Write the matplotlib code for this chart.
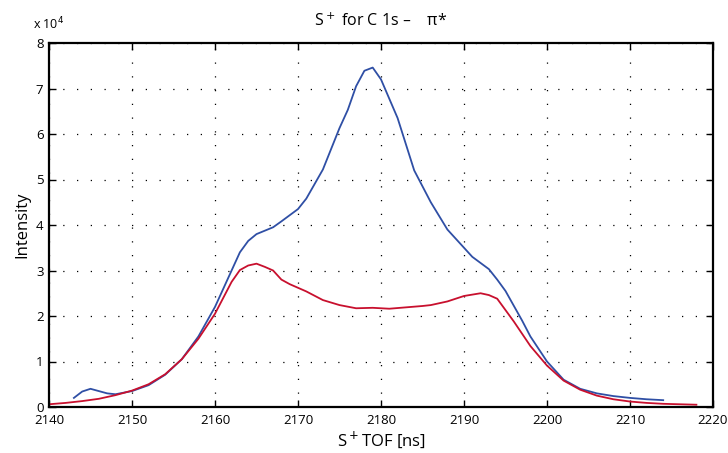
import numpy as np
import matplotlib
matplotlib.use('Agg')
import matplotlib.pyplot as plt
from matplotlib.ticker import FuncFormatter

# S+ TOF traces, intensity in units of 1e4 counts
BLUE_TOF = [2143, 2144, 2145, 2146, 2147, 2148, 2150, 2152, 2154, 2156, 2158, 2160,
            2162, 2163, 2164, 2165, 2167, 2168, 2170, 2171, 2173, 2175, 2176, 2177,
            2178, 2179, 2180, 2182, 2184, 2186, 2188, 2190, 2191, 2193, 2194, 2195,
            2197, 2198, 2200, 2202, 2204, 2206, 2208, 2210, 2212, 2214]
BLUE_INT = [0.20, 0.34, 0.40, 0.35, 0.30, 0.28, 0.35, 0.48, 0.71, 1.05, 1.55, 2.20,
            3.00, 3.40, 3.65, 3.80, 3.95, 4.08, 4.35, 4.58, 5.22, 6.13, 6.53, 7.05,
            7.39, 7.46, 7.20, 6.35, 5.20, 4.50, 3.90, 3.50, 3.30, 3.03, 2.80, 2.55,
            1.90, 1.55, 1.00, 0.60, 0.40, 0.30, 0.24, 0.20, 0.17, 0.15]

RED_TOF = [2140, 2142, 2144, 2146, 2148, 2150, 2152, 2154, 2156, 2158, 2160, 2162,
           2163, 2164, 2165, 2166, 2167, 2168, 2169, 2170, 2171, 2173, 2175, 2177,
           2179, 2181, 2183, 2185, 2186, 2188, 2190, 2192, 2193, 2194, 2196, 2198,
           2200, 2202, 2204, 2206, 2208, 2210, 2212, 2214, 2216, 2218]
RED_INT = [0.06, 0.09, 0.13, 0.18, 0.26, 0.36, 0.50, 0.72, 1.05, 1.50, 2.05, 2.75,
           3.01, 3.11, 3.15, 3.08, 3.00, 2.80, 2.70, 2.62, 2.54, 2.35, 2.24, 2.17,
           2.18, 2.16, 2.19, 2.22, 2.24, 2.32, 2.44, 2.50, 2.46, 2.38, 1.88, 1.34,
           0.91, 0.58, 0.38, 0.25, 0.17, 0.12, 0.09, 0.07, 0.06, 0.05]

X_TICKS = np.arange(2140, 2221, 10)
Y_TICKS = np.arange(0, 8.01, 1) * 1e4

plt.rcParams['font.family'] = ['Open Sans', 'DejaVu Sans']

fig = plt.figure(figsize=(7.28, 4.53), dpi=100)
ax = fig.add_axes([49 / 728, 46 / 453, 664 / 728, 364 / 453])

ax.plot(BLUE_TOF, np.array(BLUE_INT) * 1e4, color='#2f4fa5', lw=1.3)
ax.plot(RED_TOF, np.array(RED_INT) * 1e4, color='#c8102e', lw=1.3)

ax.set_xlim(2140, 2220)
ax.set_ylim(0, 8e4)
ax.set_xticks(X_TICKS)
ax.set_yticks(Y_TICKS)
ax.yaxis.set_major_formatter(FuncFormatter(lambda v, p: '{:g}'.format(v / 1e4)))
ax.tick_params(direction='in', top=True, right=True, length=5, width=1,
               labelsize=9.5)
ax.tick_params(axis='x', pad=5)
ax.tick_params(axis='y', pad=4)
for s in ax.spines.values():
    s.set_linewidth(1.6)
ax.grid(True, color='black', linestyle=(0, (1, 10)), linewidth=0.9)

ax.text(0.0, 1.03, r'x 10$^{4}$', transform=ax.transAxes, ha='center',
        va='bottom', fontsize=9)
ax.set_title('S$^+$ for C 1s –    π*', fontsize=11.5, pad=12)
ax.set_xlabel(r'S$^+$TOF [ns]', fontsize=12, labelpad=2)
ax.set_ylabel('Intensity', fontsize=12, labelpad=4)

fig.savefig('out.png', dpi=100)
